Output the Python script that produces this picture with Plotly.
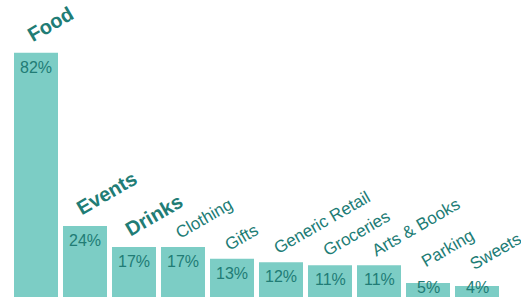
import plotly.graph_objects as go

categories = ["Food", "Events", "Drinks", "Clothing", "Gifts", "Generic Retail",
              "Groceries", "Arts & Books", "Parking", "Sweets"]
shares = [82, 23.8, 16.8, 16.8, 12.8, 11.7, 10.7, 10.7, 4.7, 3.7]
highlighted = ["Food", "Events", "Drinks"]

BAR = "#7ccdc5"
INK = "#217c75"
FONT = "Liberation Sans, Arial, Helvetica, sans-serif"

xs = list(range(len(categories)))
bar_w = 0.898

fig = go.Figure(go.Bar(
    x=xs, y=shares, width=bar_w, marker=dict(color=BAR, line=dict(width=0)),
    hoverinfo="skip",
))

ann = []
for i, (c, v) in enumerate(zip(categories, shares)):
    # percent label inside bar top (kept inside for tiny bars)
    ann.append(dict(
        x=i, y=max(v, 8.0), xref="x", yref="y", text=f"{round(v)}%",
        showarrow=False, xanchor="center", yanchor="top", yshift=-4,
        font=dict(family=FONT, size=16, color=INK),
    ))
    bold = c in highlighted
    ann.append(dict(
        x=i - bar_w / 2, y=v if v >= 8 else v + 2.4, xref="x", yref="y",
        text=f"<b>{c}</b>" if bold else c,
        showarrow=False, textangle=-30, xanchor="left", yanchor="bottom",
        xshift=7 if bold else 9, yshift=4 if bold else 2,
        font=dict(family=FONT, size=20 if bold else 17, color=INK),
    ))

fig.update_layout(
    width=521, height=301,
    margin=dict(l=0, r=0, t=0, b=4, pad=0),
    paper_bgcolor="white", plot_bgcolor="white",
    showlegend=False,
    xaxis=dict(range=[-0.7347, 9.898], visible=False, fixedrange=True),
    yaxis=dict(range=[0, 99.7], visible=False, fixedrange=True),
    annotations=ann,
)
fig.write_html("out.html", config={"displayModeBar": False},
               post_script="document.body.style.margin='0';document.body.style.overflow='hidden';")
